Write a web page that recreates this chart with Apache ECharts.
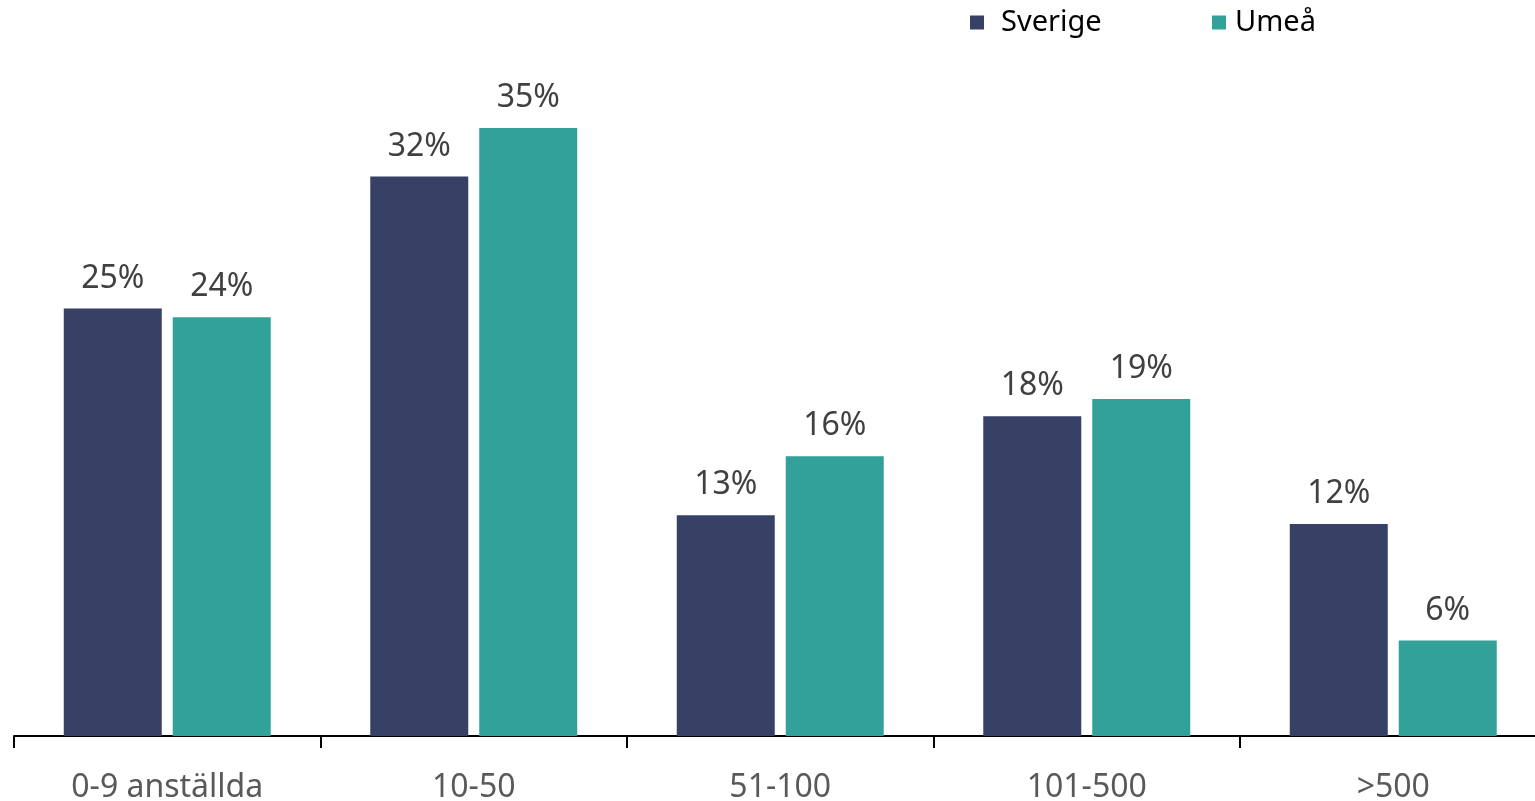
<!DOCTYPE html>
<html>
<head>
<meta charset="utf-8">
<script src="https://cdn.jsdelivr.net/npm/echarts@6/dist/echarts.min.js"></script>
<style>
html,body{margin:0;padding:0;background:#fff;}
#chart{width:1535px;height:801px;}
</style>
</head>
<body>
<div id="chart"></div>
<script>
const categories = ['0-9 anställda', '10-50', '51-100', '101-500', '>500'];
const seriesNames = ['Sverige', 'Umeå'];
const sverige = [24.6, 32.2, 12.7, 18.4, 12.2];
const umea = [24.1, 35.0, 16.1, 19.4, 5.5];

const FONT = '"Noto Sans", "Open Sans", sans-serif';
const chart = echarts.init(document.getElementById('chart'), null, {renderer: 'canvas'});

const labelCfg = {
  show: true,
  position: 'top',
  distance: 14,
  color: '#404040',
  fontFamily: FONT,
  fontSize: 32,
  formatter: p => Math.round(p.value) + '%'
};

chart.setOption({
  animation: false,
  backgroundColor: '#fff',
  legend: [
    {
      data: [seriesNames[0]], left: 965, top: 3,
      icon: 'rect', itemWidth: 14, itemHeight: 14,
      textStyle: {fontFamily: FONT, fontSize: 29, color: '#000', padding: [0, 0, 0, 12]}
    },
    {
      data: [seriesNames[1]], left: 1207, top: 3,
      icon: 'rect', itemWidth: 14, itemHeight: 14,
      textStyle: {fontFamily: FONT, fontSize: 29, color: '#000', padding: [0, 0, 0, 4]}
    }
  ],
  grid: {left: 14, width: 1532.5, top: 41, height: 695, containLabel: false, outerBoundsMode: 'none'},
  xAxis: {
    type: 'category',
    data: categories,
    boundaryGap: true,
    axisLine: {show: true, lineStyle: {color: '#000', width: 2}},
    axisTick: {show: true, interval: 0, length: 12, lineStyle: {color: '#000', width: 2}},
    axisLabel: {interval: 0, margin: 36, color: '#595959', fontFamily: FONT, fontSize: 32}
  },
  yAxis: {
    type: 'value',
    min: 0, max: 40,
    show: false,
    splitLine: {show: false}
  },
  series: [
    {
      name: seriesNames[0], type: 'bar', data: sverige,
      barWidth: 98, barGap: '11.2%',
      itemStyle: {color: '#364165'},
      label: labelCfg
    },
    {
      name: seriesNames[1], type: 'bar', data: umea,
      barWidth: 98, barGap: '11.2%',
      itemStyle: {color: '#31A199'},
      label: labelCfg
    }
  ]
});
</script>
</body>
</html>
